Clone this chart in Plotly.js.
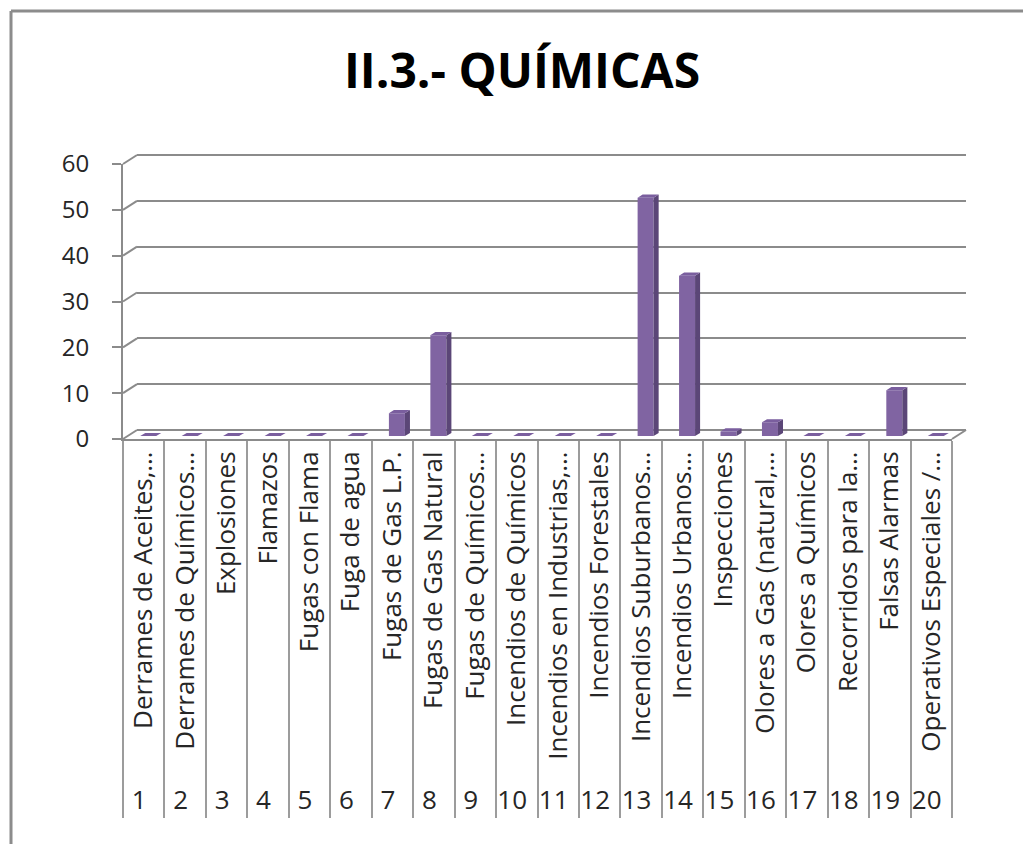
<!DOCTYPE html>
<html><head><meta charset="utf-8">
<script src="https://cdn.plot.ly/plotly-3.0.1.min.js"></script>
<style>html,body{margin:0;padding:0;background:#fff;} #chart{width:1023px;height:844px;}</style>
</head><body><div id="chart"></div>
<script>
// ---- data ----
const categoryNumbers = ['1','2','3','4','5','6','7','8','9','10','11','12','13','14','15','16','17','18','19','20'];
const categoryNames = [
  'Derrames de Aceites,…',
  'Derrames de Químicos…',
  'Explosiones',
  'Flamazos',
  'Fugas con Flama',
  'Fuga de agua',
  'Fugas de Gas L.P.',
  'Fugas de Gas Natural',
  'Fugas de Químicos…',
  'Incendios de Químicos',
  'Incendios en Industrias,…',
  'Incendios Forestales',
  'Incendios Suburbanos…',
  'Incendios Urbanos…',
  'Inspecciones',
  'Olores a Gas (natural,…',
  'Olores a Químicos',
  'Recorridos para la…',
  'Falsas Alarmas',
  'Operativos Especiales /…'
];
const values = [0,0,0,0,0,0,5,22,0,0,0,0,52,35,1,3,0,0,10,0];
const yTickValues = [0,10,20,30,40,50,60];
const chartTitle = 'II.3.- QUÍMICAS';

(function () {
// ---- geometry (style constants) ----
const W = 1023, H = 844;
const FX0 = 123, FX1 = 952, FY0 = 439, FY1 = 164; // front plane in px
const DX = 14, DY = 9;                             // depth offset in px
const YMAX = 60;
const catPx = (FX1 - FX0) / values.length;
const unitPx = (FY0 - FY1) / YMAX;
const px2x = p => p / catPx;
const px2y = p => p / unitPx;
const D0 = 0.32, D1 = 0.68;
const BAR_W = px2x(16);
const fx = p => p / W;
const fy = p => 1 - p / H;
const FONT = 'Open Sans, Noto Sans, sans-serif';
const GRID = '#8b8b8b';
const PAD = 0.6; // range padding (units) for back wall so edge gridlines are drawn
const padPx = PAD * unitPx;

// ---- 3D column faces computed from values ----
const frontFace = {x: [], y: []}, sideFace = {x: [], y: []}, topFace = {x: [], y: []};
const sx = px2x(DX * (D1 - D0)), sy = px2y(DY * (D1 - D0));
values.forEach((v, i) => {
  const c = i + 1;
  const xl = c - BAR_W / 2 + px2x(DX * D0), xr = xl + BAR_W;
  const yb = px2y(DY * D0), yt = v + yb;
  if (v > 0) {
    frontFace.x.push(xl, xr, xr, xl, xl, null); frontFace.y.push(yb, yb, yt, yt, yb, null);
    sideFace.x.push(xr, xr + sx, xr + sx, xr, xr, null); sideFace.y.push(yb, yb + sy, yt + sy, yt, yb, null);
  }
  topFace.x.push(xl, xr, xr + sx, xl + sx, xl, null); topFace.y.push(yt, yt, yt + sy, yt + sy, yt, null);
});
const face = (d, color) => ({type: 'scatter', mode: 'lines', x: d.x, y: d.y, fill: 'toself',
  fillcolor: color, line: {width: 0, color: color}, xaxis: 'x2', yaxis: 'y2', hoverinfo: 'skip', showlegend: false});

const traces = [
  {type: 'scatter', mode: 'none', x: [], y: [], xaxis: 'x', yaxis: 'y', showlegend: false, hoverinfo: 'skip'},
  face(frontFace, '#8064a2'),
  face(sideFace, '#5b4677'),
  face(topFace, '#7a5e9e'),
  {type: 'scatter', mode: 'none', x: [categoryNumbers, categoryNames], y: values,
   xaxis: 'x3', yaxis: 'y2', showlegend: false, hoverinfo: 'skip'}
];

// ---- decorative lines (frame, wall joints) ----
const shapes = [
  {type: 'line', xref: 'paper', yref: 'paper', x0: fx(11), x1: fx(11), y0: fy(11), y1: 0, line: {color: '#8c8c8c', width: 3}},
  {type: 'line', xref: 'paper', yref: 'paper', x0: fx(11), x1: 1, y0: fy(11), y1: fy(11), line: {color: '#8c8c8c', width: 3}},
  {type: 'line', xref: 'paper', yref: 'paper', x0: fx(FX1), x1: fx(FX1 + DX), y0: fy(FY0), y1: fy(FY0 - DY), line: {color: GRID, width: 2}}
];
yTickValues.forEach(v => {
  const py = FY0 - v * unitPx;
  shapes.push({type: 'line', xref: 'paper', yref: 'paper', x0: fx(FX0), x1: fx(FX0 + DX), y0: fy(py), y1: fy(py - DY), line: {color: GRID, width: 2}});
});

const layout = {
  width: W, height: H,
  margin: {l: 0, r: 0, t: 0, b: 0},
  paper_bgcolor: '#ffffff', plot_bgcolor: 'rgba(0,0,0,0)',
  showlegend: false,
  font: {family: FONT, color: '#262626'},
  title: {text: chartTitle, font: {family: FONT, size: 48, color: '#000000', weight: 'bold'},
          x: fx(522), xanchor: 'center', xref: 'paper', y: fy(71), yanchor: 'middle', yref: 'container'},
  xaxis: {domain: [fx(FX0 + DX), fx(FX1 + DX)], range: [0.5, 20.5], anchor: 'y',
          showgrid: false, zeroline: false, showline: false, showticklabels: false, ticks: ''},
  yaxis: {domain: [fy(FY0 - DY + padPx), fy(FY1 - DY - padPx)], range: [-PAD, YMAX + PAD], anchor: 'x', tickvals: yTickValues,
          showgrid: true, gridcolor: GRID, gridwidth: 2, zeroline: false, showline: false, showticklabels: false, ticks: ''},
  xaxis2: {domain: [fx(FX0), fx(FX1)], range: [0.5, 20.5], anchor: 'y2', visible: false},
  yaxis2: {domain: [fy(FY0), fy(FY1)], range: [0, YMAX], anchor: 'x2', tickvals: yTickValues,
           ticks: 'outside', ticklen: 9, tickwidth: 2, tickcolor: GRID,
           showline: true, linecolor: GRID, linewidth: 2, showgrid: false, zeroline: false,
           tickfont: {family: FONT, size: 24, color: '#262626'}, ticklabelstandoff: 18},
  xaxis3: {type: 'multicategory', overlaying: 'x2', anchor: 'y2', side: 'bottom', range: [-0.5, 19.5],
           tickangle: -90, tickfont: {family: FONT, size: 26, color: '#262626'},
           showdividers: true, dividercolor: '#9c9c9c', dividerwidth: 2,
           showline: true, linecolor: GRID, linewidth: 2, ticks: '', showgrid: false, zeroline: false},
  shapes: shapes
};

Plotly.newPlot('chart', traces, layout, {displayModeBar: false, staticPlot: true});
})();
</script>
</body></html>
